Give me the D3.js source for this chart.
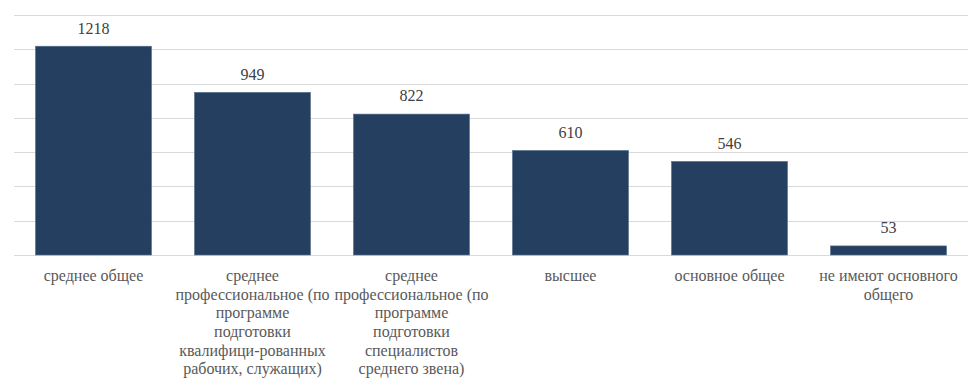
<!DOCTYPE html>
<html>
<head>
<meta charset="utf-8">
<script src="https://cdn.jsdelivr.net/npm/d3@7"></script>
<style>
  body { margin: 0; background: #fff; }
  #wrap { position: relative; width: 974px; height: 381px; }
  svg { display: block; position: absolute; left: 0; top: 0; }
  .lbl {
    position: absolute;
    transform: translateX(-50%);
    text-align: center;
    white-space: nowrap;
    font-size: 16px;
    line-height: 18.6px;
  }
  .lbl span { display: block; }
</style>
</head>
<body>
<div id="wrap"><svg id="chart" width="974" height="381"></svg></div>
<script>
const categories = [
  ['среднее общее'],
  ['среднее', 'профессиональное (по', 'программе', 'подготовки', 'квалифици-рованных', 'рабочих, служащих)'],
  ['среднее', 'профессиональное (по', 'программе', 'подготовки', 'специалистов', 'среднего звена)'],
  ['высшее'],
  ['основное общее'],
  ['не имеют основного', 'общего']
]
const values = [1218, 949, 822, 610, 546, 53]
const yTicks = [0, 200, 400, 600, 800, 1000, 1200, 1400]

const margin = { top: 15, right: 6, bottom: 126, left: 14 }
const width = 974
const height = 381
const font = "'Liberation Serif', 'Times New Roman', serif"
const baselineOffset = 14.7 // top of a line box to its baseline

const wrap = d3.select('#wrap')
const svg = d3.select('#chart')

const x = d3.scaleBand()
  .domain(d3.range(categories.length))
  .range([margin.left, width - margin.right])
  .paddingInner(0.27)
  .paddingOuter(0.135)

const y = d3.scaleLinear()
  .domain([0, 1400])
  .range([height - margin.bottom, margin.top])

// gridlines
svg.append('g')
  .selectAll('line')
  .data(yTicks)
  .enter()
  .append('line')
  .attr('x1', margin.left)
  .attr('x2', width - margin.right)
  .attr('y1', d => Math.round(y(d)) + 0.5)
  .attr('y2', d => Math.round(y(d)) + 0.5)
  .attr('stroke', '#d9d9d9')
  .attr('stroke-width', 1)

// bars
svg.append('g')
  .selectAll('rect')
  .data(values)
  .enter()
  .append('rect')
  .attr('x', (_, i) => x(i))
  .attr('y', d => y(d))
  .attr('width', x.bandwidth())
  .attr('height', d => y(0) - y(d))
  .attr('fill', '#243f60')
  .attr('stroke', '#5a7291')
  .attr('stroke-width', 0.6)

// value labels
wrap.selectAll('.val')
  .data(values)
  .enter()
  .append('div')
  .attr('class', 'lbl val')
  .style('font-family', font, 'important')
  .style('left', (_, i) => (x(i) + x.bandwidth() / 2) + 'px')
  .style('top', d => (y(d) - 12 - baselineOffset) + 'px')
  .style('color', '#404040')
  .text(d => d)

// category labels
wrap.selectAll('.cat')
  .data(categories)
  .enter()
  .append('div')
  .attr('class', 'lbl cat')
  .style('font-family', font, 'important')
  .style('left', (_, i) => (x(i) + x.bandwidth() / 2) + 'px')
  .style('top', (282 - baselineOffset) + 'px')
  .style('color', '#595959')
  .selectAll('span')
  .data(d => d)
  .enter()
  .append('span')
  .style('font-family', font, 'important')
  .text(d => d)
</script>
</body>
</html>
